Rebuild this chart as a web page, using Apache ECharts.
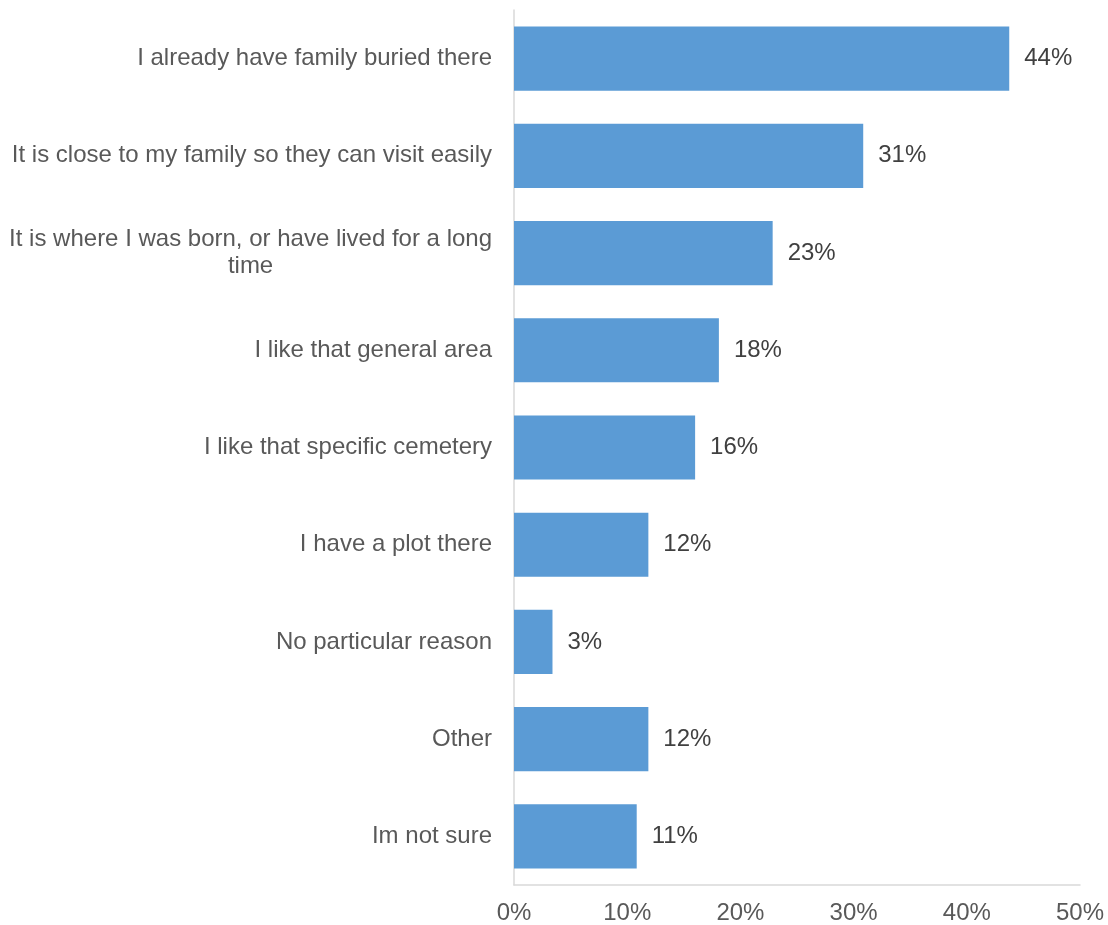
<!DOCTYPE html>
<html>
<head>
<meta charset="utf-8">
<script src="https://cdn.jsdelivr.net/npm/echarts@6/dist/echarts.min.js"></script>
<style>
html,body{margin:0;padding:0;background:#fff;}
#chart{width:1108px;height:925px;}
</style>
</head>
<body>
<div id="chart"></div>
<script>
var categories = [
  "I already have family buried there",
  "It is close to my family so they can visit easily",
  "It is where I was born, or have lived for a long time",
  "I like that general area",
  "I like that specific cemetery",
  "I have a plot there",
  "No particular reason",
  "Other",
  "Im not sure"
];
var values = [43.75, 30.85, 22.85, 18.1, 16.0, 11.87, 3.4, 11.87, 10.84];
var xTicks = [0, 10, 20, 30, 40, 50];

var FONT = "'Liberation Sans', Arial, sans-serif";
var canvas = document.createElement('canvas');
var ctx = canvas.getContext('2d');
ctx.font = "24px " + FONT;
function wrap(text, maxW) {
  var words = text.split(' ');
  var lines = [], cur = '';
  words.forEach(function (w) {
    var t = cur ? cur + ' ' + w : w;
    if (ctx.measureText(t).width > maxW && cur) { lines.push(cur); cur = w; }
    else cur = t;
  });
  if (cur) lines.push(cur);
  return lines;
}

var chart = echarts.init(document.getElementById('chart'));
chart.setOption({
  animation: false,
  backgroundColor: '#ffffff',
  grid: { left: 514, right: 28, top: 10, bottom: 40, containLabel: false, outerBoundsMode: 'none' },
  xAxis: {
    type: 'value',
    min: xTicks[0],
    max: xTicks[xTicks.length - 1],
    interval: 10,
    splitLine: { show: false },
    axisLine: { show: true, lineStyle: { color: '#d9d9d9', width: 1.5 } },
    axisTick: { show: false },
    axisLabel: {
      margin: 16, fontSize: 24, fontFamily: FONT, color: '#595959',
      formatter: function (v) { return v + '%'; }
    }
  },
  yAxis: {
    type: 'category',
    data: categories,
    inverse: true,
    axisLine: { show: true, lineStyle: { color: '#d9d9d9', width: 1.5 } },
    axisTick: { show: false },
    axisLabel: {
      margin: 22, fontSize: 24, fontFamily: FONT, color: '#595959', align: 'right',
      formatter: function (v) {
        var lines = wrap(v, 490);
        if (lines.length === 1) return v;
        return lines.map(function (l) { return '{c|' + l + '}'; }).join('\n');
      },
      rich: { c: { align: 'center', fontSize: 24, fontFamily: FONT, color: '#595959', lineHeight: 27 } }
    }
  },
  series: [{
    type: 'bar',
    data: values,
    barCategoryGap: '34%',
    itemStyle: { color: '#5b9bd5' },
    label: {
      show: true, position: 'right', distance: 15,
      fontSize: 24, fontFamily: FONT, color: '#404040',
      formatter: function (p) { return Math.round(p.value) + '%'; }
    }
  }]
});
</script>
</body>
</html>
